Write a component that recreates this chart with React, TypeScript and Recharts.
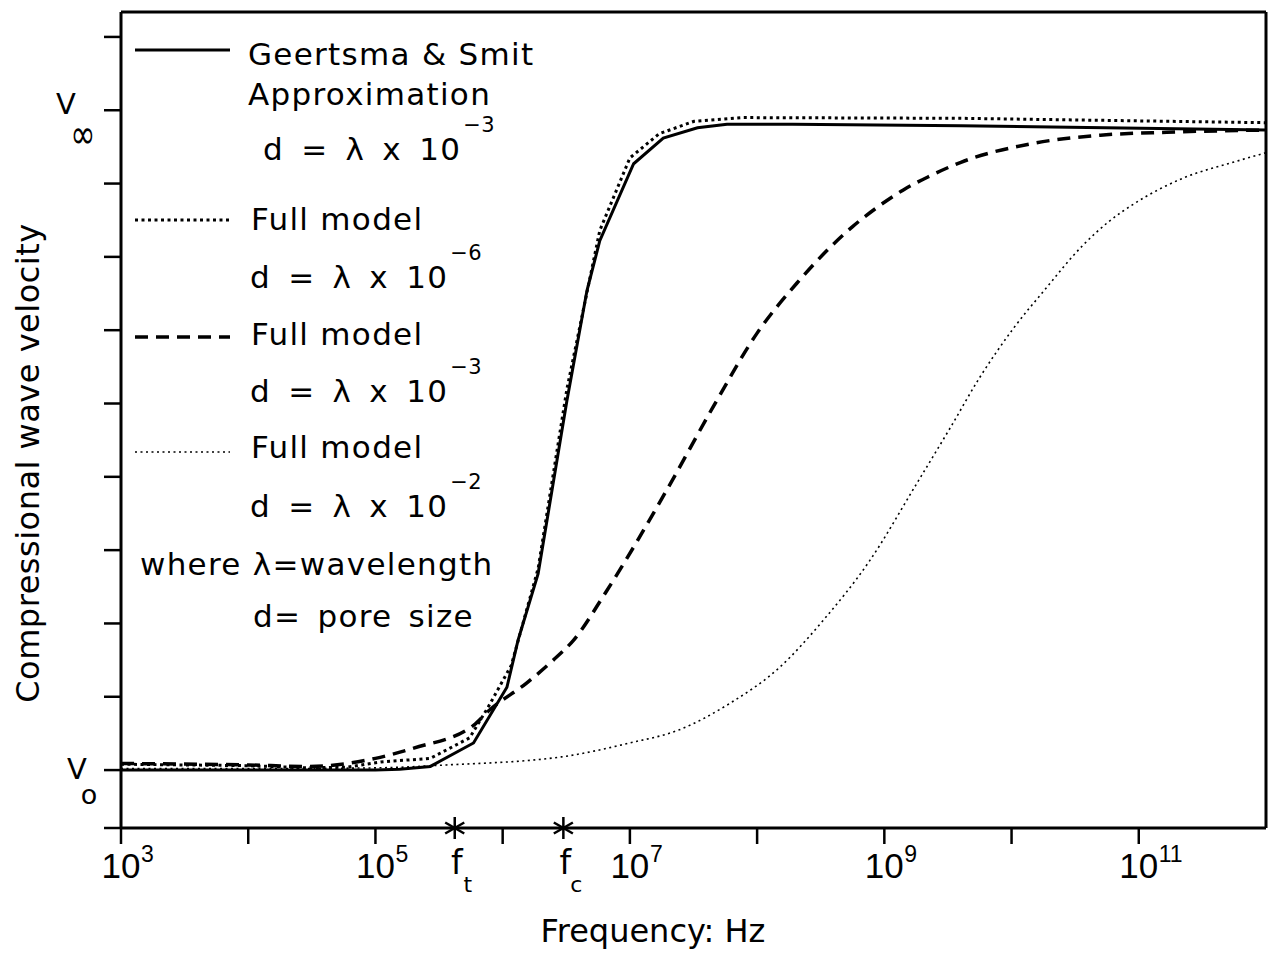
import React from 'react';
import { LineChart, Line, XAxis, YAxis, ReferenceLine, Customized } from 'recharts';

const FONT = '"DejaVu Sans", Verdana, sans-serif';
const NUM_FONT = '"Liberation Sans", Arial, sans-serif';

// Frequency (Hz) samples and velocity in tick units (0 = V0, 9 = V∞)
const gsFreq = [1e3, 1e4, 1e5, 1.55e5, 2.7e5, 5.9e5, 1.08e6, 1.32e6, 1.9e6, 3.2e6, 4.6e6, 5.8e6, 1.07e7, 1.83e7, 3.4e7, 5.8e7, 1.9e8, 4e9, 1e12];
const gsVel = [0, 0, 0, 0.01, 0.05, 0.37, 1.13, 1.77, 2.68, 5.04, 6.54, 7.22, 8.27, 8.62, 8.76, 8.81, 8.81, 8.79, 8.73];

const fineFreq = [1e3, 1e4, 3e4, 6e4, 1.1e5, 2.7e5, 5.5e5, 7.7e5, 1.17e6, 1.9e6, 3.2e6, 5.8e6, 1e7, 1.7e7, 3.2e7, 7.5e7, 4e9, 1e12];
const fineVel = [0.08, 0.06, 0.03, 0.04, 0.11, 0.16, 0.44, 0.86, 1.43, 2.75, 5.2, 7.36, 8.35, 8.68, 8.85, 8.9, 8.89, 8.83];

const midFreq = [1e3, 1e4, 3e4, 1e5, 2e5, 5.9e5, 7.9e5, 1.55e6, 2.5e6, 3.6e6, 6.6e6, 1.95e7, 4.5e7, 1e8, 2.05e8, 5.6e8, 8.7e8, 1.4e9, 2.2e9, 4e9, 1.5e10, 5e10, 1.66e11, 1e12];
const midVel = [0.09, 0.07, 0.05, 0.16, 0.3, 0.61, 0.82, 1.19, 1.5, 1.77, 2.45, 3.82, 4.95, 5.96, 6.64, 7.41, 7.67, 7.91, 8.09, 8.29, 8.55, 8.66, 8.7, 8.73];

const coarseFreq = [1e3, 1e4, 1e5, 3.6e5, 2.9e6, 1e7, 2.45e7, 6.1e7, 1.5e8, 3.3e8, 7.7e8, 1.8e9, 3.3e9, 5.6e9, 1.03e10, 1.8e10, 3.6e10, 5.8e10, 9.1e10, 2.2e11, 5.5e11, 1e12];
const coarseVel = [0.02, 0.02, 0.03, 0.07, 0.18, 0.37, 0.55, 0.91, 1.4, 2.04, 2.86, 3.91, 4.67, 5.35, 6.02, 6.54, 7.15, 7.48, 7.72, 8.07, 8.29, 8.42];

const seriesNames = ['Geertsma & Smit Approximation', 'Full model d = λ x 10^-6', 'Full model d = λ x 10^-3', 'Full model d = λ x 10^-2'];
const legendNameLines = [['Geertsma & Smit', 'Approximation'], ['Full model'], ['Full model'], ['Full model']];
const legendExponents = ['−3', '−6', '−3', '−2'];
const legendNotes = ['where λ=wavelength', 'd= pore size'];

const X_TICKS = [1e3, 1e4, 1e5, 4.2e5, 1e6, 3e6, 1e7, 1e8, 1e9, 1e10, 1e11];
const X_MAJOR = [1e3, 1e5, 1e7, 1e9, 1e11];
const X_MARKERS = [{ f: 4.2e5, sub: 't' }, { f: 3e6, sub: 'c' }];
const Y_MIN = -0.79;
const Y_MAX = 10.34;
const Y_TICKS = [Y_MIN, 0, 1, 2, 3, 4, 5, 6, 7, 8, 9, 10];

const STYLES = [
  { width: 3, dash: undefined as string | undefined, curve: 'linear' },
  { width: 3, dash: '3 3.5', curve: 'linear' },
  { width: 3.5, dash: '13 8', curve: 'monotoneX' },
  { width: 1.6, dash: '2 3.5', curve: 'monotoneX' },
];

const toData = (f: number[], v: number[]) => f.map((x, i) => ({ f: x, v: v[i] }));
const SERIES = [
  { name: seriesNames[0], data: toData(gsFreq, gsVel) },
  { name: seriesNames[1], data: toData(fineFreq, fineVel) },
  { name: seriesNames[2], data: toData(midFreq, midVel) },
  { name: seriesNames[3], data: toData(coarseFreq, coarseVel) },
];

const X_TICK_LEN = 16;

const XTick = (props: any) => {
  const { x, y, payload } = props;
  const v = payload.value;
  const ay = y - X_TICK_LEN;
  const marker = X_MARKERS.find((m) => m.f === v);
  if (marker) {
    const r = 11;
    return (
      <g>
        {[90, 30, -30].map((a) => {
          const rad = (a * Math.PI) / 180;
          return (
            <line key={a} x1={x - r * Math.cos(rad)} y1={ay - r * Math.sin(rad)} x2={x + r * Math.cos(rad)} y2={ay + r * Math.sin(rad)} stroke="#000" strokeWidth={2.5} />
          );
        })}
        <text x={x + 2} y={ay + 46} fontFamily={FONT} fontSize={33} textAnchor="middle" fill="#000">f</text>
        <text x={x + 13} y={ay + 64} fontFamily={FONT} fontSize={22} textAnchor="middle" fill="#000">{marker.sub}</text>
      </g>
    );
  }
  const major = X_MAJOR.includes(v);
  const exp = Math.round(Math.log10(v));
  return (
    <g>
      <line x1={x} y1={ay} x2={x} y2={ay + X_TICK_LEN} stroke="#000" strokeWidth={2.5} />
      {major && (
        <>
          <text x={x} y={ay + 50} fontFamily={NUM_FONT} fontSize={35} textAnchor="middle" fill="#000">10</text>
          <text x={x + 20} y={ay + 34} fontFamily={NUM_FONT} fontSize={23} textAnchor="start" fill="#000">{String(exp)}</text>
        </>
      )}
    </g>
  );
};

const YTick = (props: any) => {
  const { x, y, payload } = props;
  const v = payload.value;
  if (v === 9) {
    return (
      <g>
        <text x={x - 38} y={y + 4} fontFamily={FONT} fontSize={29} textAnchor="middle" fill="#000">V</text>
        <text transform={`translate(${x - 21},${y + 24}) scale(1,1.35)`} fontFamily={FONT} fontSize={30} textAnchor="middle" dominantBaseline="central" fill="#000">∞</text>
      </g>
    );
  }
  if (v === 0) {
    return (
      <g>
        <text x={x - 27} y={y + 9} fontFamily={FONT} fontSize={29} textAnchor="middle" fill="#000">V</text>
        <text x={x - 15} y={y + 34} fontFamily={FONT} fontSize={27} textAnchor="middle" fill="#000">o</text>
      </g>
    );
  }
  return <g />;
};

const XTitle = () => (
  <text x={653} y={942} fontFamily={FONT} fontSize={32} textAnchor="middle" fill="#000">Frequency: Hz</text>
);

const YTitle = () => (
  <text x={28} y={463} transform="rotate(-90 28 463)" fontFamily={FONT} fontSize={32} letterSpacing={0.5} textAnchor="middle" dominantBaseline="central" fill="#000">
    Compressional wave velocity
  </text>
);

const LEG_LAYOUT = [
  { sampleY: 50, nameX: 248, nameY: [65, 105], dX: 263, dY: 160 },
  { sampleY: 220, nameX: 251, nameY: [230], dX: 250, dY: 288 },
  { sampleY: 337, nameX: 251, nameY: [345], dX: 250, dY: 402 },
  { sampleY: 452, nameX: 251, nameY: [458], dX: 250, dY: 517 },
];

const LegendOverlay = () => {
  const txt = { fontFamily: FONT, fontSize: 31, letterSpacing: 1.3, fill: '#000' } as any;
  return (
    <g>
      {LEG_LAYOUT.map((L, i) => (
        <g key={i}>
          <line x1={135} x2={230} y1={L.sampleY} y2={L.sampleY} stroke="#000" strokeWidth={STYLES[i].width} strokeDasharray={STYLES[i].dash} />
          {legendNameLines[i].map((t, j) => (
            <text key={j} x={L.nameX} y={L.nameY[j]} {...txt}>{t}</text>
          ))}
          <text x={L.dX} y={L.dY} {...txt} wordSpacing={6}>
            d = λ x 10
            <tspan dx={2} dy={-28} fontSize={21} letterSpacing={0.5}>{legendExponents[i]}</tspan>
          </text>
        </g>
      ))}
      <text x={140} y={575} {...txt}>{legendNotes[0]}</text>
      <text x={253} y={627} {...txt} wordSpacing={5}>{legendNotes[1]}</text>
    </g>
  );
};

export default function App() {
  return (
    <div style={{ position: 'fixed', left: 0, top: 0, width: 1268, height: 953, background: '#fff' }}>
      <LineChart width={1268} height={953} margin={{ top: 12, right: 2, bottom: 0, left: 0 }}>
        <XAxis
          dataKey="f"
          type="number"
          scale="log"
          domain={[1e3, 1e12]}
          allowDataOverflow
          ticks={X_TICKS}
          interval={0}
          height={125}
          axisLine={{ stroke: '#000', strokeWidth: 3 }}
          tickLine={false}
          tickSize={X_TICK_LEN}
          tickMargin={0}
          tick={<XTick />}
          label={<XTitle />}
        />
        <YAxis
          type="number"
          domain={[Y_MIN, Y_MAX]}
          allowDataOverflow
          ticks={Y_TICKS}
          interval={0}
          width={121}
          axisLine={{ stroke: '#000', strokeWidth: 3 }}
          tickLine={{ stroke: '#000', strokeWidth: 2.5 }}
          tickSize={17}
          tickMargin={0}
          tick={<YTick />}
          label={<YTitle />}
        />
        <ReferenceLine y={Y_MAX} stroke="#000" strokeWidth={3} />
        <ReferenceLine x={1e12} stroke="#000" strokeWidth={3} />
        {SERIES.map((s, i) => (
          <Line
            key={s.name}
            name={s.name}
            data={s.data}
            dataKey="v"
            type={STYLES[i].curve as any}
            stroke="#000"
            strokeWidth={STYLES[i].width}
            strokeDasharray={STYLES[i].dash}
            dot={false}
            activeDot={false}
            isAnimationActive={false}
          />
        ))}
        <Customized component={LegendOverlay} />
      </LineChart>
    </div>
  );
}
